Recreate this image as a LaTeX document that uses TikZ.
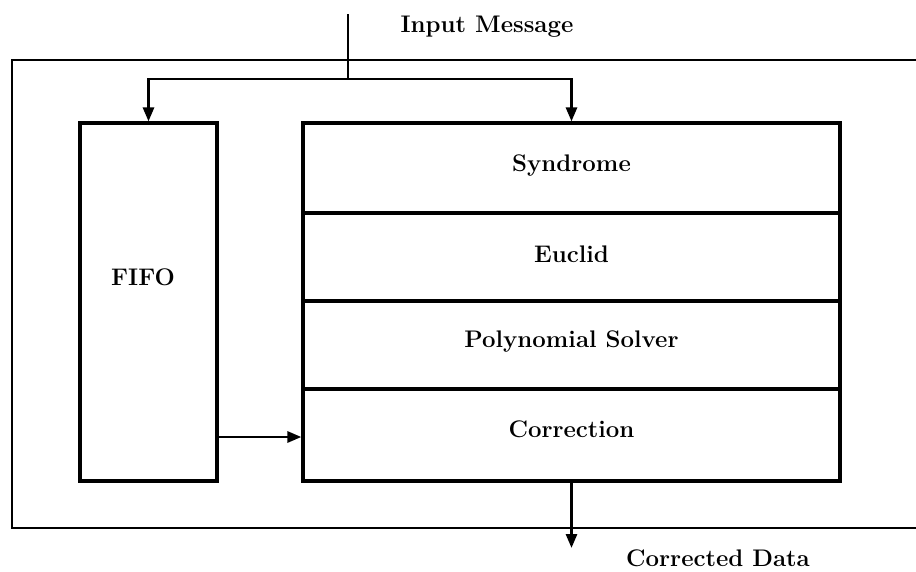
\documentclass[tikz,border=0pt]{standalone}
\usetikzlibrary{arrows.meta}
\begin{document}
\begin{tikzpicture}[x=1pt,y=-1pt,
  lbl/.style={font=\fontsize{24}{28}\selectfont\bfseries,inner sep=0pt},
  blockbox/.style={draw,line width=3.2pt,minimum width=537pt,inner sep=0pt},
  fifobox/.style={draw,line width=3.2pt,minimum width=137pt,minimum height=358pt,inner sep=0pt},
  link/.style={line width=2.8pt,-{Triangle[length=14pt,width=11pt]}},
  wire/.style={line width=2.8pt}]
\useasboundingbox (0,0) rectangle (916,571);

% enclosing frame (open on the right)
\draw[line width=2.4pt] (916,60) -- (12,60) -- (12,528) -- (916,528);

% FIFO buffer
\node[fifobox] (fifo) at (148.5,302) {};
\node[lbl] (fifolbl) at (143,277) {FIFO};

% decoder stages
\node[blockbox,minimum height=90pt] (syn)  at (571.5,168) {};
\node[blockbox,minimum height=88pt] (euc)  at (571.5,257) {};
\node[blockbox,minimum height=88pt] (poly) at (571.5,345) {};
\node[blockbox,minimum height=92pt] (corr) at (571.5,435) {};
\node[lbl] (synlbl)  at ([yshift=2pt]syn.center)  {Syndrome};
\node[lbl] (euclbl)  at ([yshift=3pt]euc.center)  {Euclid};
\node[lbl] (polylbl) at ([yshift=3pt]poly.center) {Polynomial Solver};
\node[lbl] (corrlbl) at ([yshift=6pt]corr.center) {Correction};

% input and its split to both paths
\coordinate (in) at (348,14);
\coordinate (split) at (348,79);
\draw[wire] (in) -- (split);
\draw[link] (split) -| (fifo.north);
\draw[link] (split) -| (syn.north);
\node[lbl,anchor=base] (inlbl) at (487,32) {Input Message};

% FIFO feeds the correction stage
\draw[link] (fifo.east |- 0,437) -- (corr.west |- 0,437);

% output
\coordinate (out) at (571.5,548);
\draw[link] (corr.south) -- (out);
\node[lbl,anchor=base] (outlbl) at (718,566) {Corrected Data};
\end{tikzpicture}
\end{document}
